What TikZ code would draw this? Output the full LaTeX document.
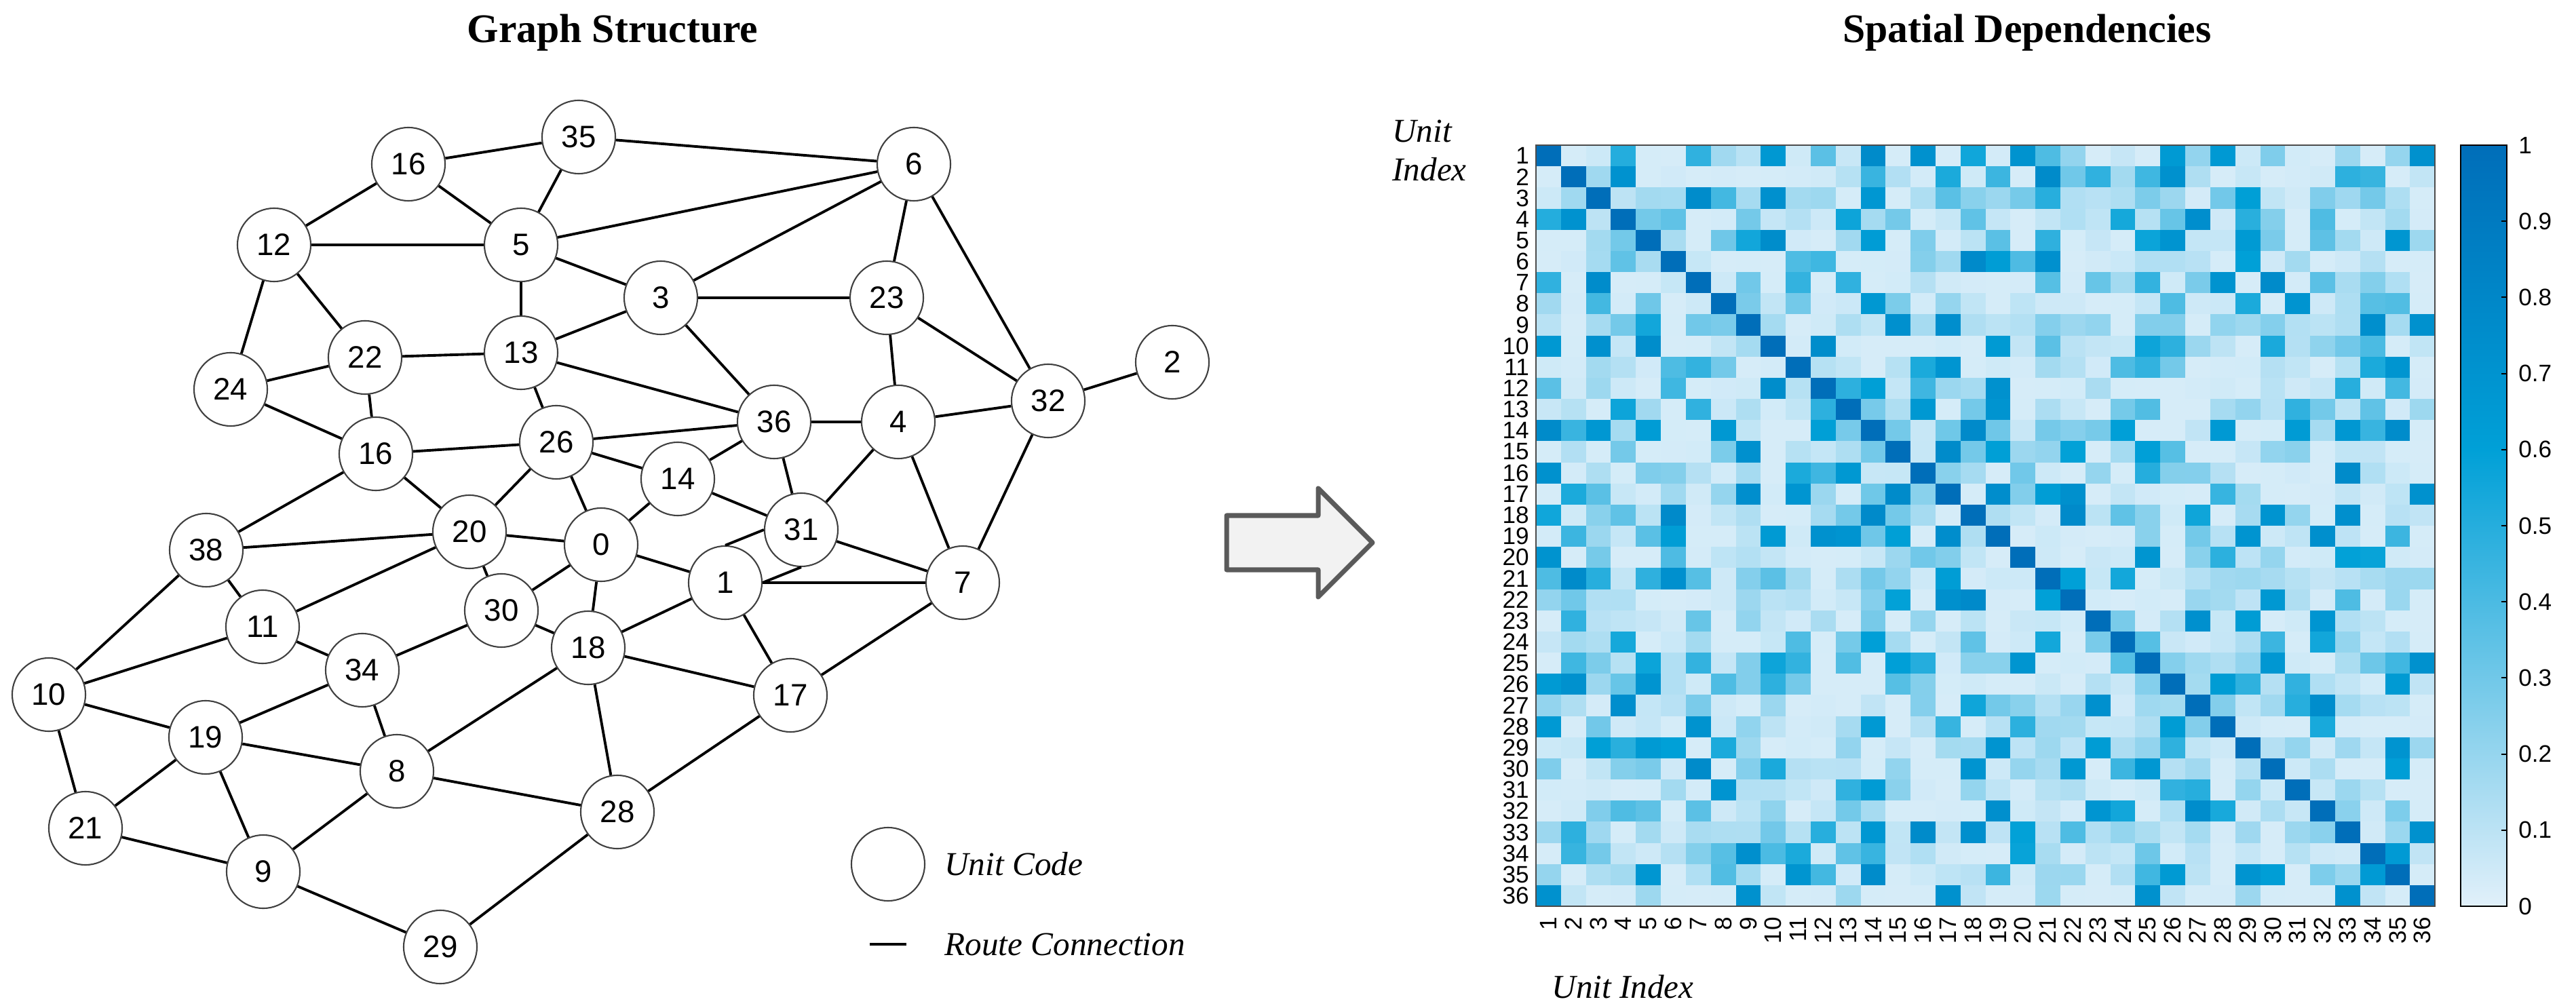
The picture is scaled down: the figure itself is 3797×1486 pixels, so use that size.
\documentclass[tikz,border=0pt]{standalone}
\usepackage{fontspec}
\setmainfont{Liberation Serif}
\newfontfamily\sansf{Liberation Sans}
\usetikzlibrary{positioning}

\definecolor{clight}{RGB}{225,240,250}
\definecolor{cmid}{RGB}{0,160,215}
\definecolor{cdark}{RGB}{0,110,185}
\definecolor{arrgray}{RGB}{90,90,90}

\begin{document}
\begin{tikzpicture}[x=0.01cm,y=-0.01cm,
    unit/.style={circle,draw=black!75,line width=0.6pt,minimum size=1.08cm,inner sep=0pt,
                 font=\sansf\fontsize{13}{13}\selectfont},
    route/.style={line width=1.1pt},
    tick/.style={font=\sansf\fontsize{10}{10}\selectfont,inner sep=1pt}]
  \useasboundingbox (0,0) rectangle (3797,1486);

  % titles
  \node[font=\bfseries\fontsize{17}{20}\selectfont] (t1) at (903,48) {Graph Structure};
  \node[font=\bfseries\fontsize{17}{20}\selectfont] (t2) at (2988,48) {Spatial Dependencies};

  % graph nodes
  \node[unit] (n16a) at (602,242)  {16};
  \node[unit] (n35)  at (853,202)  {35};
  \node[unit] (n12)  at (404,361)  {12};
  \node[unit] (n5)   at (768,361)  {5};
  \node[unit] (n22)  at (538,527)  {22};
  \node[unit] (n13)  at (768,520)  {13};
  \node[unit] (n24)  at (340,574)  {24};
  \node[unit] (n16b) at (554,669)  {16};
  \node[unit] (n26)  at (820,652)  {26};
  \node[unit] (n3)   at (974,439)  {3};
  \node[unit] (n6)   at (1347,242) {6};
  \node[unit] (n23)  at (1307,439) {23};
  \node[unit] (n32)  at (1545,591) {32};
  \node[unit] (n2)   at (1728,534) {2};
  \node[unit] (n36)  at (1141,622) {36};
  \node[unit] (n4)   at (1324,622) {4};
  \node[unit] (n14)  at (999,706)  {14};
  \node[unit] (n0)   at (886,803)  {0};
  \node[unit] (n31)  at (1181,781) {31};
  \node[unit] (n1)   at (1069,859) {1};
  \node[unit] (n7)   at (1419,859) {7};
  \node[unit] (n18)  at (867,955)  {18};
  \node[unit] (n30)  at (739,900)  {30};
  \node[unit] (n20)  at (692,784)  {20};
  \node[unit] (n38)  at (304,811)  {38};
  \node[unit] (n11)  at (387,924)  {11};
  \node[unit] (n34)  at (534,988)  {34};
  \node[unit] (n17)  at (1165,1025) {17};
  \node[unit] (n10)  at (72,1024)  {10};
  \node[unit] (n19)  at (303,1087) {19};
  \node[unit] (n8)   at (585,1137) {8};
  \node[unit] (n21)  at (126,1221) {21};
  \node[unit] (n28)  at (910,1197) {28};
  \node[unit] (n9)   at (388,1285) {9};
  \node[unit] (n29)  at (649,1396) {29};

  % route connections
  \foreach \a/\b in {n16a/n35,n16a/n12,n16a/n5,n35/n5,n35/n6,n12/n5,n12/n24,n12/n22,
      n5/n6,n5/n3,n5/n13,n3/n6,n3/n23,n3/n13,n3/n36,n13/n22,n13/n36,n13/n26,
      n22/n24,n22/n16b,n24/n16b,n16b/n26,n16b/n38,n16b/n20,n26/n36,n26/n20,n26/n14,
      n26/n0,n14/n0,n14/n36,n14/n31,n6/n23,n6/n32,n23/n4,n23/n32,n36/n4,n36/n31,
      n4/n32,n4/n31,n4/n7,n32/n2,n32/n7,n31/n7,n1/n7,n1/n0,n1/n18,n1/n17,n7/n17,
      n20/n38,n20/n0,n20/n30,n20/n11,n0/n18,n0/n30,n30/n18,n38/n11,n38/n10,n11/n10,
      n11/n34,n34/n30,n34/n19,n34/n8,n10/n19,n10/n21,n19/n21,n19/n9,n19/n8,n21/n9,
      n9/n8,n9/n29,n8/n18,n8/n28,n18/n28,n18/n17,n28/n17,n28/n29}
    \draw[route] (\a) -- (\b);
  \draw[route] (n31.west) -- (n1.north);
  \draw[route] (n31.south) -- (n1.east);

  % legend
  \node[unit] (lgunit) at (1309,1274) {};
  \node[anchor=west,font=\itshape\fontsize{14}{14}\selectfont] (lgt1) at (1380,1274) {Unit Code};
  \coordinate (lga) at (1282,1392);
  \coordinate (lgb) at (1336,1392);
  \draw[route] (lga) -- (lgb);
  \node[anchor=west,font=\itshape\fontsize{14}{14}\selectfont] (lgt2) at (1380,1392) {Route Connection};

  % block arrow
  \draw[arrgray,line width=2pt,fill=black!5,line join=round]
    (1808,760) -- (1943,760) -- (1943,720) -- (2023,800) -- (1943,880) -- (1943,840) -- (1808,840) -- cycle;

  % heat map cells
  \foreach \i in {1,...,36}
    \foreach \j in {1,...,36} {
      \ifnum\i=\j
        \def\v{1}
      \else
        \pgfmathsetmacro\v{0.03+0.75*(frac(abs(sin(\i*\j*7.3+(\i+\j)*29.7))*97))^4}
      \fi
      \pgfmathsetmacro\pa{min(\v/0.6,1)*100}
      \pgfmathsetmacro\pb{max(\v-0.6,0)/0.4*100}
      \fill[cdark!\pb!cmid!\pa!clight]
        ({2264+(\j-1)*36.81},{214+(\i-1)*31.17}) rectangle ({2264+\j*36.81+0.5},{214+\i*31.17+0.5});
    }
  \draw[black!70,line width=0.8pt] (2264,214) rectangle (3589,1336);

  % axis labels
  \foreach \k in {1,...,36} {
    \node[tick,anchor=east] (ry\k) at (2258,{214+(\k-0.5)*31.17}) {\k};
    \node[tick,anchor=east,rotate=90] (cx\k) at ({2264+(\k-0.5)*36.81},1348) {\k};
  }
  \node[anchor=west,font=\itshape\fontsize{14}{16}\selectfont,align=left] (yl) at (2040,222) {Unit\\Index};
  \node[anchor=west,font=\itshape\fontsize{14}{14}\selectfont] (xl) at (2275,1455) {Unit Index};

  % colour bar
  \shade[bottom color=clight,top color=cmid] (3627,1336) rectangle (3695,662.8);
  \shade[bottom color=cmid,top color=cdark] (3627,663.8) rectangle (3695,214);
  \draw[black,line width=0.8pt] (3627,214) rectangle (3695,1336);
  \foreach \t in {0,...,10} {
    \pgfmathsetmacro\ty{1336-\t*112.2}
    \ifnum\t>0 \ifnum\t<10 \draw[line width=0.6pt] (3687,\ty) -- (3695,\ty); \fi\fi
    \pgfmathsetmacro\lab{\t==10 ? "1" : (\t==0 ? "0" : "0.\t")}
    \node[tick,anchor=west] (cb\t) at (3708,\ty) {\lab};
  }
\end{tikzpicture}
\end{document}
